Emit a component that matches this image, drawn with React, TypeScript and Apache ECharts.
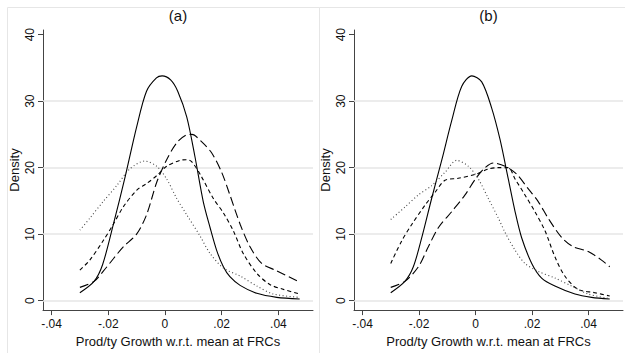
import React, { useEffect, useRef } from "react";
import * as echarts from "echarts";

// Panel (a) kernel densities: [growth, density]
const aSolid: [number, number][] = [
  [-0.03, 1.2], [-0.025, 2.9], [-0.022, 5.4], [-0.018, 11.8], [-0.014, 18.7], [-0.01, 26.1],
  [-0.0065, 31.5], [-0.003, 33.5], [-0.001, 33.8], [0.002, 33.2], [0.0045, 31.5], [0.0077, 27.6],
  [0.0106, 21.6], [0.0135, 14.9], [0.0159, 11.0], [0.0182, 7.6], [0.0206, 5.1], [0.0229, 3.6],
  [0.0265, 2.3], [0.0324, 1.1], [0.0394, 0.5], [0.0475, 0.25],
];
const aLong: [number, number][] = [
  [-0.03, 2.0], [-0.025, 2.9], [-0.0218, 4.4], [-0.0182, 6.3], [-0.0147, 8.1], [-0.01, 10.0],
  [-0.0065, 12.9], [-0.0029, 17.8], [0.0006, 21.2], [0.0041, 23.7], [0.0075, 24.9], [0.0095, 25.0],
  [0.0129, 23.9], [0.0165, 22.2], [0.02, 19.3], [0.0229, 15.9], [0.0265, 11.5], [0.03, 8.1],
  [0.0341, 5.6], [0.0394, 4.5], [0.0475, 2.8],
];
const aShort: [number, number][] = [
  [-0.03, 4.6], [-0.0265, 6.1], [-0.0218, 9.0], [-0.0182, 11.5], [-0.0147, 14.1], [-0.01, 16.6],
  [-0.0065, 17.6], [-0.0029, 18.8], [0.0006, 20.2], [0.0053, 21.1], [0.0075, 21.2], [0.0094, 20.9],
  [0.0124, 19.0], [0.017, 15.4], [0.0206, 13.2], [0.0241, 10.5], [0.0276, 7.1], [0.0324, 4.1],
  [0.0371, 2.4], [0.0418, 1.7], [0.0475, 1.0],
];
const aDot: [number, number][] = [
  [-0.03, 10.6], [-0.0265, 12.4], [-0.0218, 14.9], [-0.017, 17.3], [-0.0124, 19.8], [-0.0071, 21.0],
  [-0.0029, 20.2], [0.0006, 18.3], [0.0041, 15.4], [0.0077, 12.9], [0.0124, 9.7], [0.0159, 7.1],
  [0.0206, 4.9], [0.0265, 3.7], [0.0324, 2.2], [0.0382, 1.0], [0.0475, 0.5],
];

// Panel (b)
const bSolid: [number, number][] = [
  [-0.03, 1.2], [-0.025, 2.9], [-0.022, 5.1], [-0.019, 9.5], [-0.0155, 15.4], [-0.0119, 21.2],
  [-0.0084, 27.1], [-0.0049, 32.2], [-0.0013, 33.8], [0.0022, 32.9], [0.0057, 29.0], [0.0087, 24.2],
  [0.0116, 18.3], [0.014, 13.4], [0.0163, 9.5], [0.0199, 5.6], [0.0234, 3.4], [0.0281, 2.2],
  [0.0352, 1.0], [0.0411, 0.5], [0.0475, 0.25],
];
const bLong: [number, number][] = [
  [-0.03, 2.0], [-0.025, 2.9], [-0.0202, 5.1], [-0.0167, 8.1], [-0.0131, 11.0], [-0.0084, 13.4],
  [-0.0037, 15.9], [0.0, 18.3], [0.0034, 20.0], [0.0063, 20.7], [0.011, 20.1], [0.0146, 19.0],
  [0.0187, 16.8], [0.0222, 14.9], [0.0257, 12.4], [0.0305, 9.5], [0.0346, 8.1], [0.0399, 7.4],
  [0.0446, 6.1], [0.0475, 5.1],
];
const bShort: [number, number][] = [
  [-0.03, 5.6], [-0.0261, 9.0], [-0.0225, 11.5], [-0.0178, 14.4], [-0.0143, 16.3], [-0.0108, 18.1],
  [-0.0061, 18.4], [0.0, 19.0], [0.0045, 19.8], [0.008, 20.0], [0.0116, 20.0], [0.014, 18.3],
  [0.0175, 15.9], [0.021, 13.4], [0.0246, 10.5], [0.0281, 6.6], [0.0316, 3.7], [0.0363, 1.7],
  [0.0422, 1.2], [0.0475, 0.7],
];
const bDot: [number, number][] = [
  [-0.03, 12.2], [-0.0249, 14.1], [-0.0202, 15.9], [-0.0155, 17.3], [-0.0108, 19.3], [-0.0066, 21.1],
  [-0.0025, 20.2], [0.001, 18.3], [0.0045, 15.4], [0.0081, 12.4], [0.0104, 10.3], [0.014, 7.6],
  [0.0175, 5.6], [0.0222, 4.4], [0.0281, 3.4], [0.034, 2.2], [0.0399, 1.0], [0.0475, 0.3],
];

const xTicks = [-0.04, -0.02, 0, 0.02, 0.04];
const yTicks = [0, 10, 20, 30, 40];
const gridValues = [0, 10, 20, 30];
const panelTitles = ["(a)", "(b)"];
const xTitle = "Prod/ty Growth w.r.t. mean at FRCs";
const yTitle = "Density";

const FONT = "'Liberation Sans', Arial, sans-serif";

function fmtX(v: number): string {
  if (Math.abs(v) < 1e-9) return "0";
  const s = Math.abs(v).toFixed(2).replace(/^0/, "");
  return (v < 0 ? "-" : "") + s;
}

export default function App() {
  const ref = useRef<HTMLDivElement>(null);
  useEffect(() => {
    document.body.style.margin = "0";
    const chart = echarts.init(ref.current!, null, { renderer: "svg" });
    const grids = [
      { left: 43, top: 30, width: 270, height: 288 },
      { left: 354, top: 30, width: 269, height: 288 },
    ];
    const xAxes = grids.map((_, i) => ({
      type: "value",
      gridIndex: i,
      min: -0.043,
      max: 0.0522,
      name: xTitle,
      nameLocation: "middle",
      nameGap: 19,
      nameTextStyle: { fontFamily: FONT, fontSize: 13, color: "#111", verticalAlign: "top" },
      axisLine: { show: true, onZero: false, lineStyle: { color: "#444", width: 1 } },
      axisTick: { show: true, length: 5, customValues: xTicks, lineStyle: { color: "#444" } },
      axisLabel: {
        customValues: xTicks,
        formatter: (v: number) => fmtX(v),
        fontFamily: FONT,
        fontSize: 12,
        color: "#111",
        margin: 8,
      },
      splitLine: { show: false },
    }));
    const yAxes = grids.map((_, i) => ({
      type: "value",
      gridIndex: i,
      min: -1.42,
      max: 40.7,
      name: yTitle,
      nameLocation: "middle",
      nameGap: 22,
      nameRotate: 90,
      nameTextStyle: { fontFamily: FONT, fontSize: 13, color: "#111" },
      axisLine: { show: true, onZero: false, lineStyle: { color: "#444", width: 1 } },
      axisTick: { show: true, length: 5, customValues: yTicks, lineStyle: { color: "#444" } },
      axisLabel: {
        customValues: yTicks,
        rotate: 90,
        fontFamily: FONT,
        fontSize: 12,
        color: "#111",
        margin: 7,
      },
      splitLine: { show: false },
    }));
    const styles = [
      { type: "solid", color: "#000", width: 1.1 },
      { type: [9, 4], color: "#000", width: 1.1 },
      { type: [4, 3], color: "#000", width: 1.1 },
      { type: [1, 2.5], color: "#444", width: 1.1 },
    ];
    const panels = [
      [aSolid, aLong, aShort, aDot],
      [bSolid, bLong, bShort, bDot],
    ];
    const series: any[] = [];
    panels.forEach((set, p) => {
      set.forEach((data, k) => {
        series.push({
          type: "line",
          xAxisIndex: p,
          yAxisIndex: p,
          data,
          smooth: 0.3,
          showSymbol: false,
          symbol: "none",
          lineStyle: styles[k],
          z: 3,
          markLine:
            k === 0
              ? {
                  silent: true,
                  symbol: "none",
                  label: { show: false },
                  lineStyle: { color: "#e6e6e6", width: 1.5, type: "solid" },
                  data: gridValues.map((v) => ({ yAxis: v })),
                  z: 1,
                }
              : undefined,
        });
      });
    });
    const graphic: any[] = [
      { type: "rect", shape: { x: 7.5, y: 7.5, width: 312, height: 360 }, style: { fill: "none", stroke: "#e6e6e6", lineWidth: 1 }, z: -1 },
      { type: "rect", shape: { x: 319.5, y: 7.5, width: 320, height: 360 }, style: { fill: "none", stroke: "#e6e6e6", lineWidth: 1 }, z: -1 },
    ];
    grids.forEach((g, i) => {
      graphic.push({
        type: "text",
        x: g.left + g.width / 2,
        y: 15,
        style: {
          text: panelTitles[i],
          align: "center",
          verticalAlign: "middle",
          fontFamily: FONT,
          fontSize: 15,
          fill: "#111",
        },
      });
    });
    chart.setOption({
      animation: false,
      backgroundColor: "#fff",
      grid: grids,
      xAxis: xAxes,
      yAxis: yAxes,
      series,
      graphic,
    });
    return () => chart.dispose();
  }, []);
  return <div ref={ref} style={{ width: 625, height: 353 }} />;
}
